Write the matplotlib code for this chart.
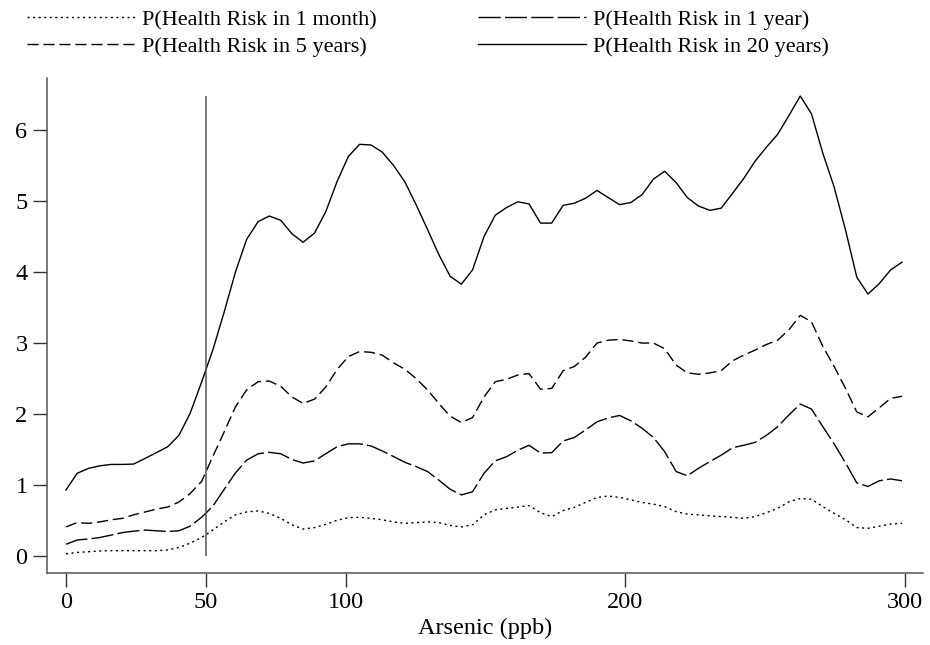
import matplotlib
matplotlib.use("Agg")
import matplotlib.pyplot as plt

# arsenic grid (ppb), 75 points
arsenic = [0.0, 4.0, 8.1, 12.1, 16.2, 20.2, 24.2, 28.3, 32.3, 36.4, 40.4, 44.4, 48.5, 52.5, 56.6,
           60.6, 64.6, 68.7, 72.7, 76.8, 80.8, 84.8, 88.9, 92.9, 97.0, 101.0, 105.0, 109.1, 113.1,
           117.2, 121.2, 125.2, 129.3, 133.3, 137.4, 141.4, 145.4, 149.5, 153.5, 157.6, 161.6,
           165.6, 169.7, 173.7, 177.8, 181.8, 185.8, 189.9, 193.9, 198.0, 202.0, 206.0, 210.1,
           214.1, 218.2, 222.2, 226.2, 230.3, 234.3, 238.4, 242.4, 246.4, 250.5, 254.5, 258.6,
           262.6, 266.6, 270.7, 274.7, 278.8, 282.8, 286.8, 290.9, 294.9, 299.0]

risk_1m = [0.03, 0.05, 0.06, 0.07, 0.075, 0.075, 0.075, 0.075, 0.075, 0.085, 0.12, 0.18, 0.26,
           0.365, 0.48, 0.58, 0.62, 0.635, 0.60, 0.53, 0.44, 0.38, 0.40, 0.445, 0.505, 0.54, 0.545,
           0.53, 0.51, 0.48, 0.46, 0.47, 0.48, 0.47, 0.43, 0.41, 0.44, 0.58, 0.65, 0.67, 0.69,
           0.71, 0.61, 0.555, 0.64, 0.685, 0.755, 0.825, 0.845, 0.825, 0.79, 0.755, 0.73, 0.695,
           0.625, 0.59, 0.58, 0.565, 0.555, 0.545, 0.53, 0.555, 0.61, 0.67, 0.765, 0.81, 0.80,
           0.695, 0.60, 0.51, 0.40, 0.39, 0.42, 0.45, 0.46]

risk_1y = [0.165, 0.225, 0.24, 0.26, 0.295, 0.33, 0.35, 0.365, 0.355, 0.345, 0.355, 0.42, 0.545,
           0.70, 0.94, 1.17, 1.35, 1.44, 1.46, 1.44, 1.36, 1.31, 1.34, 1.44, 1.54, 1.58, 1.58,
           1.55, 1.48, 1.40, 1.32, 1.26, 1.19, 1.07, 0.94, 0.86, 0.905, 1.165, 1.34, 1.40, 1.49,
           1.56, 1.45, 1.455, 1.62, 1.67, 1.775, 1.89, 1.945, 1.98, 1.905, 1.80, 1.67, 1.47, 1.19,
           1.13, 1.235, 1.33, 1.42, 1.525, 1.56, 1.60, 1.70, 1.82, 1.99, 2.14, 2.07, 1.82, 1.58,
           1.31, 1.03, 0.98, 1.06, 1.085, 1.06]

risk_5y = [0.41, 0.47, 0.46, 0.48, 0.51, 0.53, 0.58, 0.62, 0.66, 0.69, 0.76, 0.88, 1.05, 1.40,
           1.75, 2.10, 2.34, 2.455, 2.465, 2.39, 2.24, 2.15, 2.21, 2.38, 2.63, 2.81, 2.88, 2.87,
           2.83, 2.72, 2.63, 2.50, 2.34, 2.15, 1.97, 1.88, 1.95, 2.24, 2.455, 2.49, 2.55, 2.57,
           2.35, 2.36, 2.61, 2.67, 2.80, 3.00, 3.04, 3.05, 3.03, 3.00, 3.00, 2.92, 2.69, 2.58,
           2.56, 2.58, 2.61, 2.75, 2.83, 2.90, 2.98, 3.04, 3.19, 3.39, 3.30, 2.95, 2.67, 2.36,
           2.03, 1.96, 2.09, 2.22, 2.25]

risk_20y = [0.93, 1.165, 1.235, 1.27, 1.29, 1.29, 1.295, 1.375, 1.455, 1.54, 1.70, 2.01, 2.45,
            2.90, 3.44, 4.00, 4.46, 4.71, 4.79, 4.73, 4.54, 4.42, 4.55, 4.85, 5.28, 5.63, 5.80,
            5.79, 5.69, 5.50, 5.27, 4.95, 4.60, 4.25, 3.94, 3.83, 4.03, 4.50, 4.80, 4.91, 4.99,
            4.96, 4.69, 4.69, 4.94, 4.97, 5.04, 5.15, 5.05, 4.95, 4.98, 5.09, 5.31, 5.42, 5.26,
            5.05, 4.93, 4.87, 4.90, 5.11, 5.32, 5.56, 5.76, 5.94, 6.21, 6.48, 6.23, 5.67, 5.20,
            4.59, 3.93, 3.69, 3.84, 4.03, 4.14]

labels = ["P(Health Risk in 1 month)", "P(Health Risk in 1 year)",
          "P(Health Risk in 5 years)", "P(Health Risk in 20 years)"]
xticks = [0, 50, 100, 200, 300]
yticks = [0, 1, 2, 3, 4, 5, 6]
threshold = 50

plt.rcParams["font.family"] = ["Liberation Serif", "DejaVu Serif"]
FS = 17.5      # axis text
FS_LEG = 16    # legend text

fig = plt.figure(figsize=(9.3, 6.45), dpi=100)
ax = fig.add_axes([0.0505, 0.1116, 0.942, 0.767])

lw = 1.0
l1, = ax.plot(arsenic, risk_1m, color="black", lw=lw, dashes=(1.5, 2.5))
l2, = ax.plot(arsenic, risk_1y, color="black", lw=lw, dashes=(16, 3))
l3, = ax.plot(arsenic, risk_5y, color="black", lw=lw, dashes=(8, 3.5))
l4, = ax.plot(arsenic, risk_20y, color="black", lw=lw)
ax.vlines(threshold, 0, 6.48, color="#555555", lw=1.1)

ax.set_xlim(-6.8, 306.5)
ax.set_ylim(-0.24, 6.73)
ax.set_xticks(xticks)
ax.set_yticks(yticks)
ax.tick_params(direction="out", length=10, width=1, color="#333333",
               labelsize=FS, pad=4)
for s in ["top", "right"]:
    ax.spines[s].set_visible(False)
for s in ["left", "bottom"]:
    ax.spines[s].set_color("#555555")
    ax.spines[s].set_linewidth(1.1)
ax.set_xlabel("Arsenic (ppb)", fontsize=FS, labelpad=3)

# legend, two columns placed by hand
kw = dict(frameon=False, fontsize=FS_LEG, handlelength=4.86, handletextpad=0.32,
          labelspacing=0.29, borderpad=0, borderaxespad=0, loc="upper left")
leg1 = fig.legend([l1, l3], [labels[0], labels[2]], bbox_to_anchor=(0.029, 0.985), **kw)
leg2 = fig.legend([l2, l4], [labels[1], labels[3]], bbox_to_anchor=(0.514, 0.985), **kw)

fig.savefig("out.png", dpi=100)
